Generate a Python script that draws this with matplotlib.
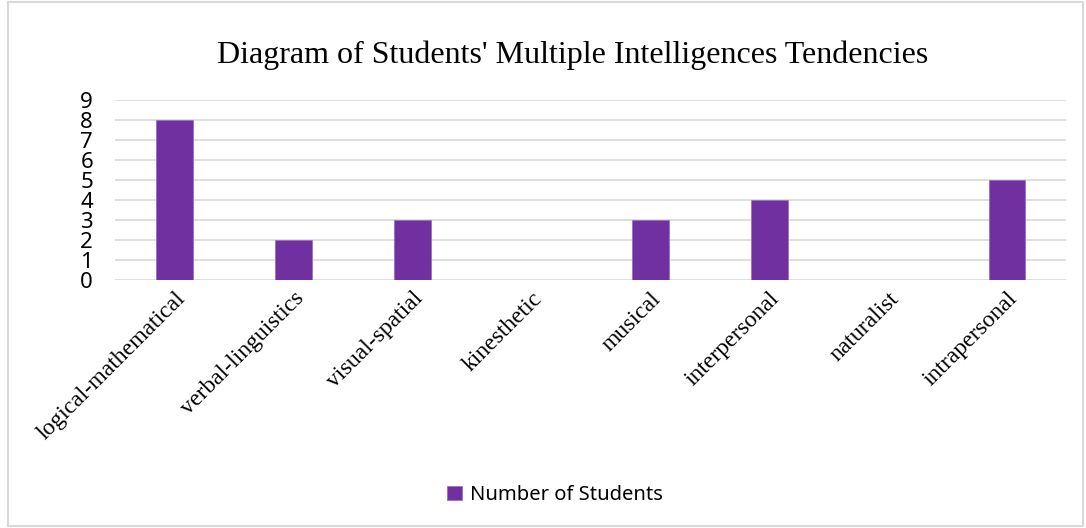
import matplotlib.pyplot as plt
from matplotlib.patches import Rectangle

categories = ["logical-mathematical", "verbal-linguistics", "visual-spatial", "kinesthetic",
              "musical", "interpersonal", "naturalist", "intrapersonal"]
students = [8, 2, 3, 0, 3, 4, 0, 5]

fig = plt.figure(figsize=(10.86, 5.28), dpi=100)
ax = fig.add_axes([0.106, 0.470, 0.876, 0.341])

x = range(len(categories))
ax.bar(x, students, width=0.31, color="#7030A0", edgecolor="#9d6fc4", linewidth=0.6,
       label="Number of Students", zorder=3)

ax.set_xlim(-0.5, len(categories) - 0.5)
ax.set_ylim(0, 9)
ax.set_yticks(range(10))
ax.set_yticklabels([str(i) for i in range(10)], fontsize=16, family="Noto Sans")
ax.set_xticks(list(x))
ax.set_xticklabels(categories, rotation=45, ha="right", rotation_mode="anchor",
                   fontsize=17, family="Liberation Serif")
ax.tick_params(axis="y", length=0, pad=16)
ax.tick_params(axis="x", length=0, pad=6)
ax.grid(axis="y", color="#d9d9d9", linewidth=1.2, zorder=0)
for s in ax.spines.values():
    s.set_visible(False)

fig.text(0.527, 0.895, "Diagram of Students' Multiple Intelligences Tendencies",
         ha="center", va="center", fontsize=23, family="Liberation Serif")

fig.legend(loc="center", bbox_to_anchor=(0.511, 0.062), frameon=False,
           prop={"family": "Noto Sans", "size": 14.5}, handlelength=0.7, handleheight=0.7,
           handletextpad=0.4)

fig.patches.append(Rectangle((0.007, 0.004), 0.99, 0.992, transform=fig.transFigure,
                             fill=False, edgecolor="#d9d9d9", linewidth=1.5))

fig.savefig("out.png", dpi=100)
